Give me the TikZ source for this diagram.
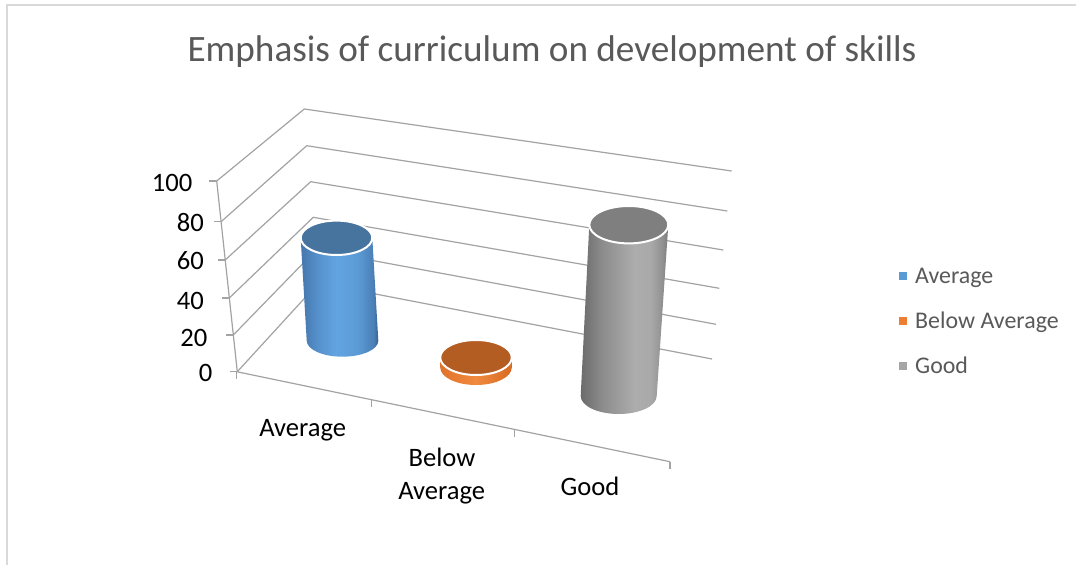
\documentclass[tikz,border=0pt]{standalone}
\usepackage{fontspec}
\setmainfont{Carlito}
\definecolor{gridc}{RGB}{163,163,163}
\definecolor{borderc}{RGB}{217,217,217}
\definecolor{titlec}{RGB}{89,89,89}
\definecolor{legc}{RGB}{89,89,89}
\definecolor{mAvg}{HTML}{5B9BD5}
\definecolor{mBelow}{HTML}{ED7D31}
\definecolor{mGood}{HTML}{A5A5A5}
% blue cylinder
\definecolor{bA}{HTML}{4576AB}
\definecolor{bB}{HTML}{5691CC}
\definecolor{bC}{HTML}{62A4E2}
\definecolor{bD}{HTML}{5B9AD4}
\definecolor{bE}{HTML}{4A7FB6}
\definecolor{bF}{HTML}{36628F}
\definecolor{btop}{HTML}{46749F}
% gray cylinder
\definecolor{gA}{HTML}{6B6B6B}
\definecolor{gB}{HTML}{8E8E8E}
\definecolor{gC}{HTML}{ADADAD}
\definecolor{gD}{HTML}{A9A9A9}
\definecolor{gE}{HTML}{8F8F8F}
\definecolor{gF}{HTML}{7A7A7A}
\definecolor{gtop}{HTML}{7F7F7F}
% orange disk
\definecolor{oA}{HTML}{E0732A}
\definecolor{oB}{HTML}{F08A3E}
\definecolor{oC}{HTML}{D86A22}
\definecolor{otop}{HTML}{B45D23}
\pgfdeclarehorizontalshading{cylblue}{100bp}{color(0bp)=(bA); color(25bp)=(bA); color(36bp)=(bB); color(48bp)=(bC); color(62bp)=(bD); color(72bp)=(bE); color(75bp)=(bF); color(100bp)=(bF)}
\pgfdeclarehorizontalshading{cylgray}{100bp}{color(0bp)=(gA); color(25bp)=(gA); color(38bp)=(gB); color(56bp)=(gC); color(65bp)=(gD); color(72bp)=(gE); color(75bp)=(gF); color(100bp)=(gF)}
\pgfdeclarehorizontalshading{cylorange}{100bp}{color(0bp)=(oA); color(25bp)=(oA); color(50bp)=(oB); color(75bp)=(oC); color(100bp)=(oC)}
\begin{document}
\begin{tikzpicture}[x=1pt,y=-1pt,
  grid/.style={draw=gridc, line width=1.2pt},
  ticklab/.style={anchor=east, inner sep=0pt, font=\fontsize{26.6}{30}\selectfont, text=black},
  catlab/.style={anchor=base, inner sep=0pt, font=\fontsize{26.6}{30}\selectfont, text=black},
  leglab/.style={anchor=base west, inner sep=0pt, font=\fontsize{23.9}{28}\selectfont, text=legc},
  legmark/.style={minimum size=7.7pt, inner sep=0pt, draw=none},
  topface/.style={draw=white, line width=2pt}]
\useasboundingbox (0,0) rectangle (1076,565);
\fill[white] (0,0) rectangle (1076,565);
\draw[borderc, line width=1.6pt] (6.8,565) -- (6.8,5) -- (1076,5);

% title
\node[anchor=base, inner sep=0pt, text=titlec, font=\fontsize{37.2}{42}\selectfont] (title) at (552,61) {Emphasis of curriculum on development of skills};

% front vertical axis points (0..100)
\coordinate (f0) at (237.3,371.7);
\coordinate (f1) at (233.3,335);
\coordinate (f2) at (229.3,298);
\coordinate (f3) at (225.2,260);
\coordinate (f4) at (221.1,221.7);
\coordinate (f5) at (216.7,181);
% back-left corners
\coordinate (b0) at (318.5,283);
\coordinate (b1) at (316,250);
\coordinate (b2) at (313.3,217.3);
\coordinate (b3) at (310.7,181.7);
\coordinate (b4) at (306.7,145.7);
\coordinate (b5) at (304.3,109);
% right ends of back wall
\coordinate (r0) at (712,359);
\coordinate (r1) at (716,324.3);
\coordinate (r2) at (719.3,288.3);
\coordinate (r3) at (723.3,250);
\coordinate (r4) at (727.3,211);
\coordinate (r5) at (731.7,171);
% floor front
\coordinate (c0) at (236.7,371.7);
\coordinate (c1) at (371.7,399.7);
\coordinate (c2) at (514.3,429.4);
\coordinate (c3) at (670,461.7);

\foreach \i in {0,...,5}{
  \draw[grid] (f\i) -- (b\i) -- (r\i);
  \draw[grid] (f\i) -- ++(-7.5,0);
}
\draw[grid] (f5) -- (f0);
\draw[grid] (c0) -- (c3);
\foreach \i in {0,...,3}{
  \draw[grid] (c\i) -- ++(0,7.5);
}

% tick labels
\node[ticklab] (l100) at (192.5,183.3) {100};
\node[ticklab] (l80) at (204,222.5) {80};
\node[ticklab] (l60) at (204,260.8) {60};
\node[ticklab] (l40) at (204,300.8) {40};
\node[ticklab] (l20) at (207.5,337.5) {20};
\node[ticklab] (l0) at (212.5,372.5) {0};

% category labels
\node[catlab] (cA) at (302.7,436.7) {Average};
\node[catlab] (cB1) at (442,466.7) {Below};
\node[catlab] (cB2) at (441.7,499.5) {Average};
\node[catlab] (cG) at (590,495) {Good};

% blue cylinder (Average)
\shade[shading=cylblue] (300.7,238) -- (306.7,340.7) arc[start angle=180, end angle=360, x radius=35.8pt, y radius=16pt] -- (372.3,238) -- cycle;
\fill[btop, topface] (336.5,237.8) ellipse[x radius=35.8pt, y radius=17.2pt];

% orange disk (Below Average)
\shade[shading=cylorange] (440.2,357.5) -- (440.2,367.5) arc[start angle=180, end angle=360, x radius=35.8pt, y radius=17.5pt] -- (511.8,357.5) -- cycle;
\fill[otop, topface] (476,357.5) ellipse[x radius=35.8pt, y radius=17.5pt];

% gray cylinder (Good)
\shade[shading=cylgray] (589.3,224.7) -- (580.7,396) arc[start angle=180, end angle=360, x radius=38pt, y radius=18pt] -- (668.3,224.7) -- cycle;
\fill[gtop, topface] (628.8,224.7) ellipse[x radius=39.5pt, y radius=18.7pt];

% legend
\node[legmark, fill=mAvg] (mk1) at (902.8,276.3) {};
\node[legmark, fill=mBelow] (mk2) at (902.8,321.3) {};
\node[legmark, fill=mGood] (mk3) at (902.8,366) {};
\node[leglab] (lg1) at (915,283.3) {Average};
\node[leglab] (lg2) at (915,328.3) {Below Average};
\node[leglab] (lg3) at (915,373.3) {Good};
\end{tikzpicture}
\end{document}
